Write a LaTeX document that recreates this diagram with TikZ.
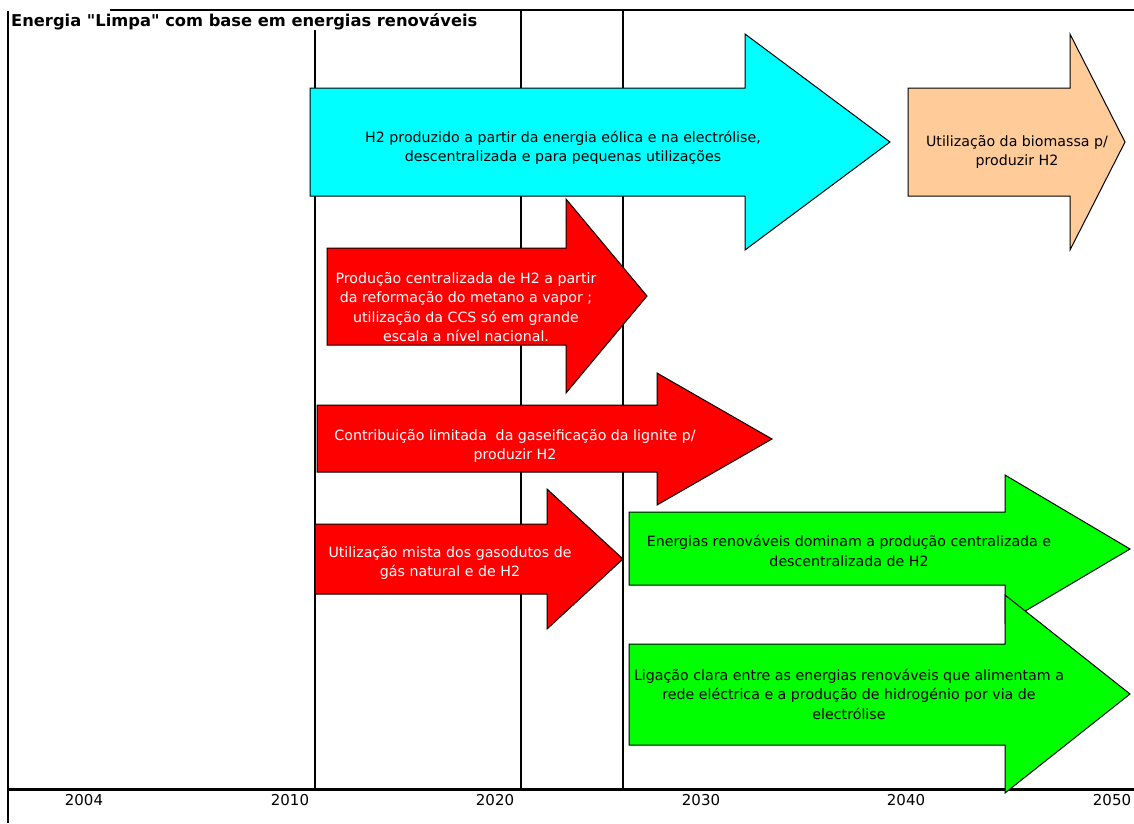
\documentclass[tikz,border=0pt]{standalone}
\usepackage{fontspec}
\setmainfont{DejaVu Sans}
\definecolor{windcyan}{HTML}{00FFFF}
\definecolor{biopeach}{HTML}{FFCC99}
\definecolor{fossilred}{HTML}{FF0000}
\definecolor{renewgreen}{HTML}{00FF00}
% block arrow: fill, left, body top, body bottom, head x, head top, head bottom, tip x, tip y
\newcommand\blockarrow[9]{%
  \draw[arrowshape,fill=#1] (#2,#3) -- (#5,#3) -- (#5,#6) -- (#8,#9) -- (#5,#7)
    -- (#5,#4) -- (#2,#4) -- cycle;}
\begin{document}
\begin{tikzpicture}[x=1pt,y=-1pt,
  gridline/.style={line width=1.1pt},
  axisline/.style={line width=3pt},
  arrowshape/.style={draw=black,line width=1pt,line join=miter},
  arrowtext/.style={align=center,inner sep=0pt,font=\fontsize{14.2}{19.5}\selectfont},
  yearlabel/.style={anchor=base,inner sep=0pt,font=\fontsize{15}{17}\selectfont},
  titletext/.style={anchor=base west,inner sep=0pt,font=\bfseries\fontsize{16.3}{19}\selectfont}]
\useasboundingbox (0,0) rectangle (1134,823);
\fill[white] (0,0) rectangle (1134,823);

% frame, period lines and time axis
\coordinate (frameTL) at (8,11);
\coordinate (frameBL) at (8,823);
\coordinate (topL) at (110,10);
\coordinate (topR) at (1134,10);
\draw[gridline] (frameTL) -- (frameBL);
\draw[gridline] (topL) -- (topR);
\coordinate (y2010t) at (315,30);   \coordinate (y2010b) at (315,789);
\coordinate (y2020t) at (521,10);   \coordinate (y2020b) at (521,789);
\coordinate (y2025t) at (623,10);   \coordinate (y2025b) at (623,789);
\draw[gridline] (y2010t) -- (y2010b);
\draw[gridline] (y2020t) -- (y2020b);
\draw[gridline] (y2025t) -- (y2025b);
\coordinate (axisL) at (8,789);
\coordinate (axisR) at (1134,789);
\draw[axisline] (axisL) -- (axisR);

\node[titletext] (title) at (11,26) {Energia \textquotedbl Limpa\textquotedbl{} com base em energias renováveis};

\node[yearlabel] (l2004) at (84,805) {2004};
\node[yearlabel] (l2010) at (290,805) {2010};
\node[yearlabel] (l2020) at (495,805) {2020};
\node[yearlabel] (l2030) at (701,805) {2030};
\node[yearlabel] (l2040) at (906,805) {2040};
\node[yearlabel] (l2050) at (1112,805) {2050};

% pathways
\blockarrow{windcyan}{310}{88}{196}{745}{34}{250}{890}{142}
\node[arrowtext] (wind) at (563,148) {H2 produzido a partir da energia eólica e na electrólise,\\descentralizada e para pequenas utilizações};

\blockarrow{biopeach}{908}{88}{196}{1070}{34}{250}{1125}{142}
\node[arrowtext] (biomass) at (1017,152) {Utilização da biomassa p/\\produzir H2};

\blockarrow{fossilred}{327}{248}{345}{566}{199}{393}{647}{296}
\node[arrowtext,text=white] (smr) at (466,307) {Produção centralizada de H2 a partir\\da reformação do metano a vapor ;\\utilização da CCS só em grande\\escala a nível nacional.};

\blockarrow{fossilred}{317}{405}{472}{657}{373}{505}{772}{439}
\node[arrowtext,text=white] (lignite) at (515,446) {Contribuição limitada~ da gaseificação da lignite p/\\produzir H2};

\blockarrow{fossilred}{315}{524}{594}{547}{489}{629}{623}{559}
\node[arrowtext,text=white] (pipes) at (450,563) {Utilização mista dos gasodutos de\\gás natural e de H2};

\blockarrow{renewgreen}{629}{512}{585}{1005}{475}{623}{1130}{549}
\node[arrowtext] (dominate) at (849,551) {Energias renováveis dominam a produção centralizada e\\descentralizada de H2};

\blockarrow{renewgreen}{629}{644}{745}{1005}{595}{793}{1130}{694}
\node[arrowtext] (grid) at (849,694) {Ligação clara entre as energias renováveis que alimentam a\\rede eléctrica e a produção de hidrogénio por via de\\electrólise};
\end{tikzpicture}
\end{document}
